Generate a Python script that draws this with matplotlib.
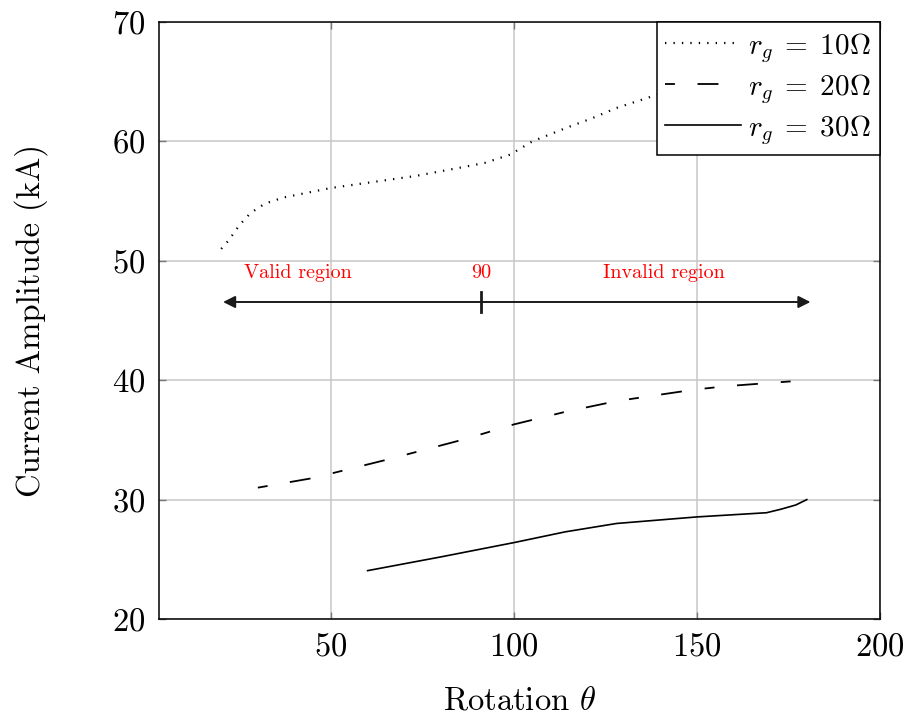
import numpy as np
import matplotlib
matplotlib.use('Agg')
import matplotlib.pyplot as plt

plt.rcParams['font.family'] = 'cmr10'
plt.rcParams['mathtext.fontset'] = 'cm'
plt.rcParams['axes.formatter.use_mathtext'] = True

# data
theta_10 = [20, 22, 25, 28, 32, 37, 50, 73, 87, 92, 99, 105, 114, 121, 128, 137, 150, 165, 180]
amp_10 = [51.0, 51.7, 53.0, 54.0, 54.8, 55.3, 56.1, 57.1, 57.9, 58.2, 58.9, 60.0, 61.1, 61.9, 62.8, 63.7, 65.0, 66.5, 68.0]

theta_20 = [30, 45, 66, 87, 100, 114, 128, 149, 158, 180]
amp_20 = [31.0, 31.8, 33.4, 35.1, 36.3, 37.35, 38.25, 39.2, 39.5, 40.0]

theta_30 = [60, 80, 100, 114, 128, 150, 169, 173, 177, 180]
amp_30 = [24.05, 25.2, 26.4, 27.3, 28.0, 28.55, 28.9, 29.2, 29.55, 30.0]

labels = [r'$r_g\;=\;10\Omega$', r'$r_g\;=\;20\Omega$', r'$r_g\;=\;30\Omega$']
xticks = [50, 100, 150, 200]
yticks = [20, 30, 40, 50, 60, 70]

fig = plt.figure(figsize=(9.09, 7.16), dpi=100)
ax = fig.add_axes([159/909, (716-619)/716, 721/909, 597/716])

ax.plot(theta_10, amp_10, color='black', lw=1.6, linestyle=(0, (0.6, 3.2)), label=labels[0])
ax.plot(theta_20, amp_20, color='black', lw=1.3, linestyle=(0, (5.5, 12.5, 11.6, 12.7)), label=labels[1])
ax.plot(theta_30, amp_30, color='black', lw=1.2, label=labels[2])

# valid / invalid region marker
ax.annotate('', xy=(20.5, 46.55), xytext=(181, 46.55),
            arrowprops=dict(arrowstyle='<|-|>', color='#1a1a1a', lw=1.4,
                            shrinkA=0, shrinkB=0, mutation_scale=18))
ax.plot([91, 91], [45.7, 47.4], color='#1a1a1a', lw=2)
ax.text(41, 48.55, 'Valid region', color='red', fontsize=14.5, ha='center', va='baseline')
ax.text(91, 48.55, '90', color='red', fontsize=14.5, ha='center', va='baseline')
ax.text(141, 48.55, 'Invalid region', color='red', fontsize=14.5, ha='center', va='baseline')

ax.set_xlim(3, 200)
ax.set_ylim(20, 70)
ax.set_xticks(xticks)
ax.set_yticks(yticks)
ax.grid(True, color='#c8c8c8', lw=1.1)
ax.set_axisbelow(True)
ax.tick_params(direction='in', length=5, width=1, color='#777777',
               top=True, right=True, labelsize=23.5, pad=10)
for s in ax.spines.values():
    s.set_linewidth(1.1)

ax.set_xlabel(r'Rotation $\theta$', fontsize=23.5, labelpad=18)
ax.set_ylabel('Current Amplitude (kA)', fontsize=23.5, labelpad=46)

leg = ax.legend(loc='upper right', fontsize=21, borderaxespad=0, fancybox=False,
                framealpha=1, edgecolor='black', handlelength=2.6,
                handletextpad=0.25, labelspacing=0.25, borderpad=0.3)
leg.get_frame().set_linewidth(1.1)

fig.savefig('out.png', dpi=100)
